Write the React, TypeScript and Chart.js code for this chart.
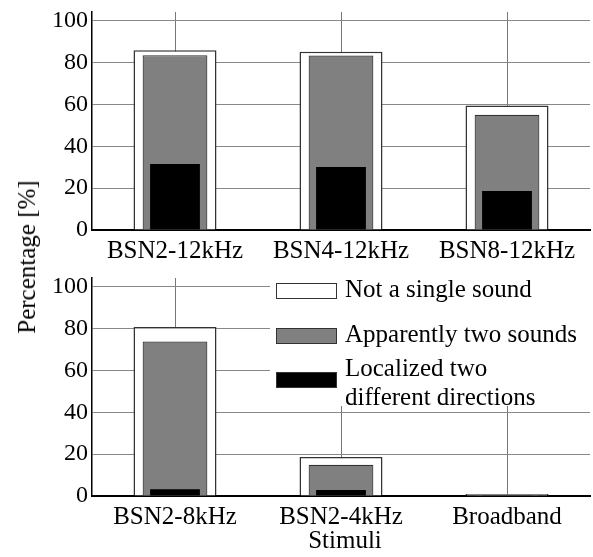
import React, { useEffect, useRef } from "react";
import { Chart, registerables } from "chart.js";

Chart.register(...registerables);

const topCategories = ["BSN2-12kHz", "BSN4-12kHz", "BSN8-12kHz"];
const topNotSingle = [86.0, 85.3, 59.6];
const topTwoSounds = [83.6, 83.5, 55.1];
const topLocalized = [31.6, 30.1, 18.6];

const bottomCategories = ["BSN2-8kHz", "BSN2-4kHz", "Broadband"];
const bottomNotSingle = [80.8, 18.6, 1.0];
const bottomTwoSounds = [73.9, 14.9, 0.6];
const bottomLocalized = [3.2, 2.9, 0.3];

const yTicks = [0, 20, 40, 60, 80, 100];
const seriesNames = ["Not a single sound", "Apparently two sounds", "Localized two different directions"];

const FONT = "'Liberation Serif', 'Times New Roman', serif";

function makeConfig(labels: string[], a: number[], b: number[], c: number[], xHeight: number): any {
  return {
    type: "bar",
    data: {
      labels,
      datasets: [
        {
          label: seriesNames[0],
          data: a,
          backgroundColor: "#ffffff",
          borderColor: "#333333",
          borderWidth: 1.5,
          barPercentage: 0.5,
          categoryPercentage: 1,
          order: 3,
        },
        {
          label: seriesNames[1],
          data: b,
          backgroundColor: "#808080",
          borderColor: "#333333",
          borderWidth: 1.2,
          barPercentage: 0.39,
          categoryPercentage: 1,
          order: 2,
        },
        {
          label: seriesNames[2],
          data: c,
          backgroundColor: "#000000",
          borderWidth: 0,
          barPercentage: 0.3,
          categoryPercentage: 1,
          order: 1,
        },
      ],
    },
    options: {
      responsive: false,
      animation: false,
      events: [],
      grouped: false,
      layout: { padding: { top: 12, right: 3, left: 0, bottom: 0 } },
      plugins: { legend: { display: false }, tooltip: { enabled: false } },
      scales: {
        x: {
          grid: { offset: false, color: "#777777", lineWidth: 1, drawTicks: false },
          border: { color: "#000000", width: 2 },
          ticks: { color: "#000000", font: { family: FONT, size: 25 }, padding: 6, maxRotation: 0, autoSkip: false },
          afterFit: (scale: any) => {
            scale.height = xHeight;
            scale.paddingLeft = 0;
            scale.paddingRight = 0;
          },
        },
        y: {
          min: 0,
          max: 104.3,
          grid: { color: "#888888", lineWidth: 1, drawTicks: false },
          border: { color: "#000000", width: 1.5 },
          ticks: { color: "#000000", font: { family: FONT, size: 24 }, padding: 4, stepSize: 20 },
          afterBuildTicks: (scale: any) => {
            scale.ticks = yTicks.map((v) => ({ value: v }));
          },
          afterFit: (scale: any) => {
            scale.width = 92;
            scale.paddingTop = 0;
            scale.paddingBottom = 0;
          },
        },
      },
    },
  };
}

export default function App() {
  const topRef = useRef<HTMLCanvasElement>(null);
  const botRef = useRef<HTMLCanvasElement>(null);

  useEffect(() => {
    const c1 = new Chart(topRef.current as HTMLCanvasElement, makeConfig(topCategories, topNotSingle, topTwoSounds, topLocalized, 38));
    const c2 = new Chart(botRef.current as HTMLCanvasElement, makeConfig(bottomCategories, bottomNotSingle, bottomTwoSounds, bottomLocalized, 61));
    return () => {
      c1.destroy();
      c2.destroy();
    };
  }, []);

  const text: React.CSSProperties = {
    position: "absolute",
    fontFamily: FONT,
    fontSize: 25,
    lineHeight: "24px",
    color: "#000",
    whiteSpace: "nowrap",
  };
  const box = (top: number, bg: string): React.CSSProperties => ({
    position: "absolute",
    left: 6,
    top,
    width: 59,
    height: 14,
    background: bg,
    border: "1.5px solid #333",
  });

  return (
    <div style={{ position: "fixed", left: 0, top: 0, width: 593, height: 557, background: "#fff", overflow: "hidden" }}>
      <canvas ref={topRef} width={593} height={268} style={{ position: "absolute", left: 0, top: 0 }} />
      <canvas ref={botRef} width={593} height={291} style={{ position: "absolute", left: 0, top: 266 }} />
      <div style={{ position: "absolute", left: 270, top: 276, width: 323, height: 130, background: "#fff" }}>
        <div style={box(7, "#ffffff")} />
        <div style={{ ...text, left: 75, top: 1 }}>{seriesNames[0]}</div>
        <div style={box(52, "#808080")} />
        <div style={{ ...text, left: 75, top: 46 }}>{seriesNames[1]}</div>
        <div style={box(96, "#000000")} />
        <div style={{ ...text, left: 75, top: 80 }}>Localized two</div>
        <div style={{ ...text, left: 75, top: 109 }}>different directions</div>
      </div>
      <div
        style={{
          ...text,
          left: 27,
          top: 257,
          transform: "translate(-50%, -50%) rotate(-90deg)",
        }}
      >
        Percentage [%]
      </div>
      <div style={{ ...text, left: 345, top: 528, transform: "translateX(-50%)" }}>Stimuli</div>
    </div>
  );
}
